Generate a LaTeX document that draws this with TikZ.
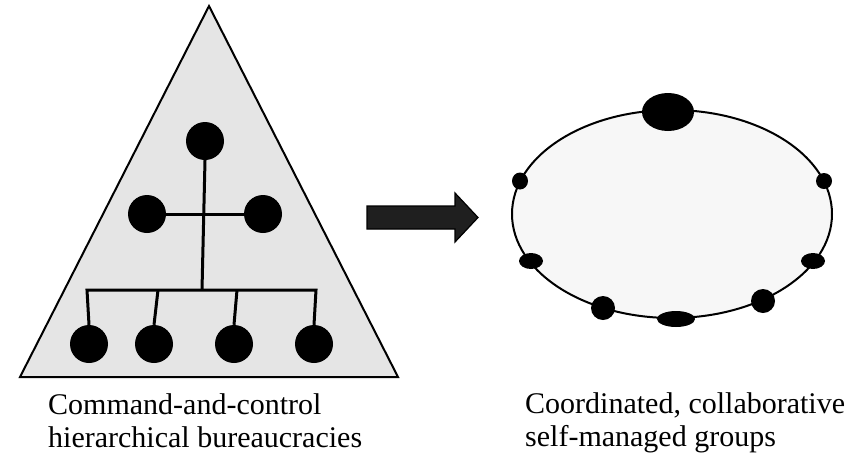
\documentclass[tikz,border=0pt]{standalone}
\usepackage{fontspec}
\setmainfont{Liberation Serif}
\usetikzlibrary{shapes.geometric,positioning}

\begin{document}
\begin{tikzpicture}[
  x=1pt, y=-1pt,
  font=\fontsize{30}{33}\selectfont,
  pyramid/.style={draw=black, line width=2pt, fill=black!10, line join=miter},
  member/.style={circle, fill=black, inner sep=0pt, minimum size=38pt},
  link/.style={draw=black, line width=3pt},
  pusher/.style={draw=black, line width=1.2pt, fill=black!88},
  ring/.style={ellipse, draw=black, line width=2pt, fill=black!3,
    inner sep=0pt, minimum width=320pt, minimum height=208pt},
  peer/.style={ellipse, fill=black, inner sep=0pt},
  caption/.style={anchor=north west, inner sep=0pt, align=left}
]
\useasboundingbox (0,0) rectangle (868,459);

% hierarchy
\draw[pyramid] (209,6) -- (398,377) -- (20,377) -- cycle;

\node[member] (boss) at (205,141) {};
\node[member] (midl) at (147,214) {};
\node[member] (midr) at (263,214) {};
\node[member] (low1) at (89,344) {};
\node[member] (low2) at (154,344) {};
\node[member] (low3) at (234,344) {};
\node[member] (low4) at (314,344) {};

\coordinate (hub) at (202,290);
\coordinate (drop1) at (87,290);
\coordinate (drop2) at (158,290);
\coordinate (drop3) at (237,290);
\coordinate (drop4) at (316,290);

\draw[link] (boss.south) -- (hub);
\draw[link] (midl.east) -- (midr.west);
\draw[link] (low1.north) -- (drop1) -- (drop4) -- (low4.north);
\draw[link] (drop2) -- (low2.north);
\draw[link] (drop3) -- (low3.north);

% arrow
\draw[pusher] (367,206) -- (455,206) -- (455,193) -- (478,217.5)
  -- (455,242) -- (455,229) -- (367,229) -- cycle;

% network
\node[ring] (team) at (672,214) {};
\node[peer, minimum width=52pt, minimum height=38pt] (lead) at (668,112) {};
\node[peer, minimum width=16pt, minimum height=17pt] (p1) at (520,181) {};
\node[peer, minimum width=16pt, minimum height=16pt] (p2) at (824,181) {};
\node[peer, minimum width=24pt, minimum height=16pt] (p3) at (531,261) {};
\node[peer, minimum width=24pt, minimum height=16pt] (p4) at (813,261) {};
\node[peer, minimum width=24pt, minimum height=24pt] (p5) at (603,308) {};
\node[peer, minimum width=24pt, minimum height=24pt] (p6) at (763,301) {};
\node[peer, minimum width=38pt, minimum height=16pt] (p7) at (676,319) {};

% captions
\node[caption] (leftcap) at (48,393.5) {Command-and-control\\hierarchical bureaucracies};
\node[caption] (rightcap) at (525,392) {Coordinated, collaborative\\self-managed groups};

\end{tikzpicture}
\end{document}
